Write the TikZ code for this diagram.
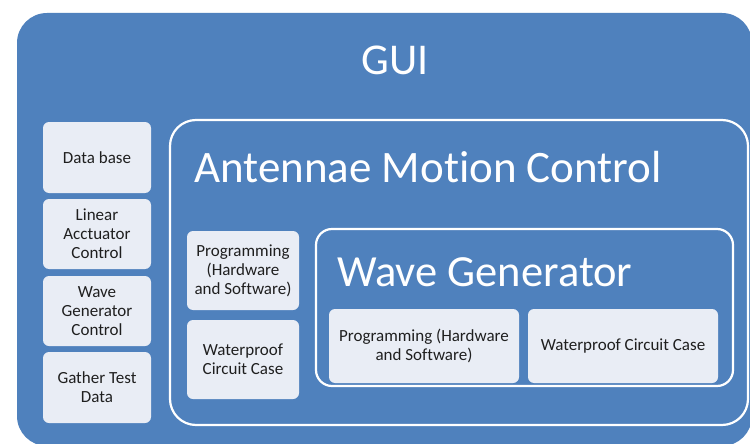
\documentclass[tikz,border=0pt]{standalone}
\usepackage{fontspec}
\setmainfont[RawFeature=-liga]{Carlito}
\definecolor{ublue}{RGB}{79,129,189}
\definecolor{ulight}{RGB}{233,237,245}
\begin{document}
\begin{tikzpicture}[x=1pt,y=1pt,
  container/.style={draw=white,line width=2.2pt,fill=ublue,inner sep=0pt},
  itembox/.style={fill=ulight,rounded corners=6pt,inner sep=1pt,align=center,
    font=\fontsize{17}{19}\selectfont,text=black!88},
  title/.style={text=white,inner sep=0pt,anchor=west}]
\useasboundingbox (0,0) rectangle (750,-444);
\fill[white] (0,0) rectangle (750,-444);
\node[fill=ublue,rounded corners=30pt,minimum width=735pt,minimum height=433pt,inner sep=0pt] (gui) at (384.5,-229.5) {};
\node[text=white,font=\fontsize{44}{44}\selectfont,inner sep=0pt] (guit) at (395,-60) {GUI};
\node[itembox,minimum width=108pt,minimum height=71pt] (db) at (97,-157.5) {Data base};
\node[itembox,minimum width=108pt,minimum height=70pt] (lac) at (97,-234) {Linear\\Acctuator\\Control};
\node[itembox,minimum width=108pt,minimum height=70pt] (wgc) at (97,-311) {Wave\\Generator\\Control};
\node[itembox,minimum width=108pt,minimum height=71pt] (gtd) at (97,-387.5) {Gather Test\\Data};
\node[container,rounded corners=26pt,minimum width=578pt,minimum height=305pt] (amc) at (459,-272.5) {};
\node[title,font=\fontsize{45}{45}\selectfont] (amct) at (194,-167) {Antennae Motion Control};
\node[itembox,minimum width=112pt,minimum height=79pt] (ap) at (243,-270.5) {Programming\\(Hardware\\and Software)};
\node[itembox,minimum width=112pt,minimum height=79pt] (aw) at (243,-359.5) {Waterproof\\Circuit Case};
\node[container,rounded corners=16pt,minimum width=417pt,minimum height=157pt] (wg) at (524.5,-307.5) {};
\node[title,font=\fontsize{44.5}{44.5}\selectfont] (wgt) at (337,-272) {Wave Generator};
\node[itembox,minimum width=190pt,minimum height=74pt] (wp) at (424,-346) {Programming (Hardware\\and Software)};
\node[itembox,minimum width=190pt,minimum height=74pt] (ww) at (623,-346) {Waterproof Circuit Case};
\end{tikzpicture}
\end{document}
